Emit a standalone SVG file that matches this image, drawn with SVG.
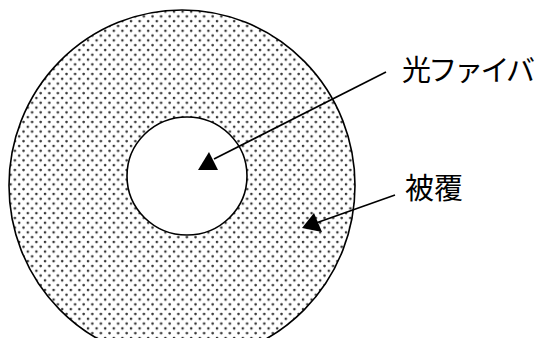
<svg xmlns="http://www.w3.org/2000/svg" width="539" height="338" viewBox="0 0 539 338">
<style>
.outline{stroke:#000;stroke-width:1.6}
.conn{stroke:#000;stroke-width:1.6;fill:none}
.head{fill:#000;stroke:none}
.lbl{font-family:"Noto Sans CJK JP","Noto Sans CJK SC",sans-serif;font-size:29px;fill:#000}
</style>
<defs>
<pattern id="dots" patternUnits="userSpaceOnUse" width="8.6" height="9.6">
<rect width="8.6" height="9.6" fill="#fff"/>
<circle cx="2" cy="2" r="1.3" fill="#333"/>
<circle cx="6.3" cy="6.8" r="1.3" fill="#333"/>
</pattern>
</defs>
<rect width="539" height="338" fill="#fff"/>
<g id="coating">
<ellipse class="outline" cx="182" cy="185.5" rx="173" ry="175.5" fill="url(#dots)"/>
</g>
<g id="fiber">
<ellipse class="outline" cx="187" cy="176" rx="60" ry="59" fill="#fff"/>
</g>
<g id="label-fiber">
<text class="lbl" x="402" y="81" textLength="133" lengthAdjust="spacing">光ファイバ</text>
</g>
<g id="label-coating">
<text class="lbl" x="405" y="199">被覆</text>
</g>
<g id="connectors">
<line class="conn" x1="386" y1="72" x2="214" y2="159"/>
<polygon class="head" points="209,152 198,170 218,170"/>
<line class="conn" x1="395" y1="195" x2="316" y2="223"/>
<polygon class="head" points="302,228 314,213 322,232"/>
</g>
</svg>
